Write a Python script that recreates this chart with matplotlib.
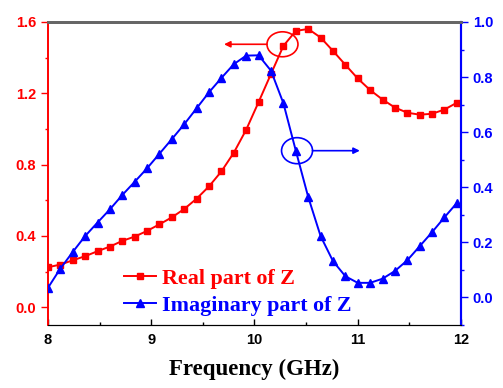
import numpy as np
import matplotlib
matplotlib.use("Agg")
import matplotlib.pyplot as plt
from matplotlib.patches import Ellipse
from matplotlib.ticker import MultipleLocator
from matplotlib.font_manager import FontProperties

# Frequency samples (GHz)
freq = [8.00, 8.12, 8.24, 8.36, 8.48, 8.60, 8.72, 8.84, 8.96, 9.08,
        9.20, 9.32, 9.44, 9.56, 9.68, 9.80, 9.92, 10.04, 10.16, 10.28,
        10.40, 10.52, 10.64, 10.76, 10.88, 11.00, 11.12, 11.24, 11.36, 11.48,
        11.60, 11.72, 11.84, 11.96]

# Real part of Z (left axis)
z_real = [0.224, 0.239, 0.263, 0.286, 0.314, 0.340, 0.372, 0.396, 0.428, 0.465,
          0.504, 0.551, 0.609, 0.678, 0.762, 0.867, 0.996, 1.151, 1.309, 1.466,
          1.550, 1.561, 1.513, 1.438, 1.360, 1.283, 1.218, 1.165, 1.120, 1.091,
          1.080, 1.085, 1.109, 1.147]

# Imaginary part of Z (right axis)
z_imag = [0.035, 0.105, 0.165, 0.223, 0.272, 0.320, 0.372, 0.420, 0.469, 0.522,
          0.575, 0.629, 0.687, 0.745, 0.797, 0.847, 0.878, 0.879, 0.823, 0.705,
          0.533, 0.365, 0.223, 0.132, 0.077, 0.053, 0.053, 0.068, 0.096, 0.135,
          0.186, 0.237, 0.291, 0.343]

real_label = "Real part of Z"
imag_label = "Imaginary part of Z"
x_title = "Frequency (GHz)"

RED = "#ff0000"
BLUE = "#0000ff"
SANS = "Liberation Sans"
SERIF = "Liberation Serif"

fig = plt.figure(figsize=(5.03, 3.88), dpi=100)
ax = fig.add_axes([0.0954, 0.1624, 0.8211, 0.7809])
ax2 = ax.twinx()

l1, = ax.plot(freq, z_real, color=RED, lw=1.4, marker="s", ms=4.8,
              label=real_label, zorder=3)
l2, = ax2.plot(freq, z_imag, color=BLUE, lw=1.4, marker="^", ms=6.0,
               label=imag_label, zorder=3)

ax.set_xlim(8, 12)
ax.set_ylim(-0.1, 1.6)
ax2.set_ylim(-0.1, 1.0)

ax.xaxis.set_major_locator(MultipleLocator(1))
ax.xaxis.set_minor_locator(MultipleLocator(0.5))
ax.yaxis.set_major_locator(MultipleLocator(0.4))
ax.yaxis.set_minor_locator(MultipleLocator(0.2))
ax2.yaxis.set_major_locator(MultipleLocator(0.2))
ax2.yaxis.set_minor_locator(MultipleLocator(0.1))

tick_font = FontProperties(family=SANS, weight="bold", size=10.5)

ax.tick_params(axis="x", which="both", direction="in", top=False, color="black",
               width=1.0, pad=6)
ax.tick_params(axis="x", which="major", length=4)
ax.tick_params(axis="x", which="minor", length=2.5)
ax.tick_params(axis="y", which="both", direction="out", colors=RED, width=1.0)
ax.tick_params(axis="y", which="major", length=5)
ax.tick_params(axis="y", which="minor", length=2.5)
ax2.tick_params(axis="y", which="both", direction="out", colors=BLUE, width=1.0)
ax2.tick_params(axis="y", which="major", length=5)
ax2.tick_params(axis="y", which="minor", length=2.5)

for lab in ax.get_xticklabels():
    lab.set_fontproperties(tick_font)
for lab in ax.get_yticklabels():
    lab.set_fontproperties(tick_font)
    lab.set_color(RED)
for lab in ax2.get_yticklabels():
    lab.set_fontproperties(tick_font)
    lab.set_color(BLUE)

for a in (ax, ax2):
    a.spines["top"].set_color("#666666")
    a.spines["top"].set_linewidth(2.0)
    a.spines["bottom"].set_color("black")
    a.spines["left"].set_color(RED)
    a.spines["right"].set_color(BLUE)
    a.spines["left"].set_linewidth(1.2)
    a.spines["right"].set_linewidth(1.5)

ax.set_xlabel(x_title, family=SERIF, weight="bold", size=16.5, labelpad=8)

# Circles with arrows pointing each curve to its axis
ax.add_patch(Ellipse((10.271, 1.475), 0.30, 0.140, fill=False,
                     edgecolor=RED, lw=1.2, zorder=4))
ax.annotate("", xy=(9.705, 1.475), xytext=(10.121, 1.475),
            arrowprops=dict(arrowstyle="-|>", color=RED, lw=1.2,
                            mutation_scale=9, shrinkA=0, shrinkB=0))
ax.add_patch(Ellipse((10.412, 0.878), 0.30, 0.146, fill=False,
                     edgecolor=BLUE, lw=1.2, zorder=4))
ax.annotate("", xy=(11.02, 0.878), xytext=(10.562, 0.878),
            arrowprops=dict(arrowstyle="-|>", color=BLUE, lw=1.2,
                            mutation_scale=9, shrinkA=0, shrinkB=0))

leg = ax2.legend(handles=[l1, l2], loc="upper left",
                 bbox_to_anchor=(0.184, 0.187), frameon=False, borderpad=0,
                 borderaxespad=0, handlelength=1.45, handletextpad=0.3,
                 labelspacing=0.31,
                 prop=dict(family=SERIF, weight="bold", size=15.8))
for txt, col in zip(leg.get_texts(), (RED, BLUE)):
    txt.set_color(col)

fig.savefig("out.png", dpi=100)
